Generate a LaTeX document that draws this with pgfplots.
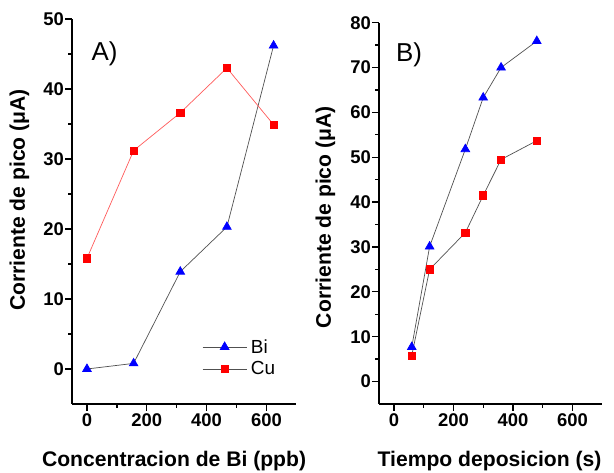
\documentclass[border=0pt]{standalone}
\usepackage{pgfplots}
\pgfplotsset{compat=1.18}
\usepackage{fontspec}
\setmainfont{Liberation Sans}
\definecolor{lgray}{RGB}{80,80,80}
\definecolor{lred}{RGB}{255,90,90}
\pgfplotsset{
  panel/.style={
    scale only axis,
    axis lines=left,
    axis line style={-, line width=1.3bp},
    tick align=outside,
    major tick length=7bp,
    minor tick length=4bp,
    every tick/.style={black, line width=1.3bp},
    xmin=-50, xmax=700,
    xtick={0,200,400,600},
    minor x tick num=1,
    minor y tick num=1,
    /pgf/number format/assume math mode=true,
    tick label style={font=\bfseries\fontsize{18.5}{19}\selectfont},
    yticklabel style={inner xsep=1bp},
    xticklabel style={inner ysep=2bp},
    label style={font=\bfseries\fontsize{21.2}{23}\selectfont},
    ylabel={Corriente de pico (μA)},
    legend image code/.code={\draw[mark repeat=2,mark phase=2] plot coordinates {(0bp,0bp) (22bp,0bp) (44bp,0bp)};},
  },
  bi/.style={lgray, line width=0.7bp, mark=triangle*, mark size=5bp, mark options={draw=blue, fill=blue}},
  cu/.style={line width=0.7bp, mark=square*, mark size=3.6bp, mark options={draw=red, fill=red}},
}
\begin{document}
\begin{tikzpicture}[x=1bp,y=1bp]
\path[use as bounding box] (0,0) rectangle (614,473);
\begin{axis}[panel,
  at={(72bp,69bp)}, anchor=south west,
  width=224.3bp, height=385bp,
  ymin=-5, ymax=50, ytick={0,10,20,30,40,50},
  xlabel={Concentracion de Bi (ppb)},
  xlabel style={at={(axis description cs:0.455,-0.1636)}, anchor=base},
  ylabel style={at={(axis description cs:-0.235,0.53)}, anchor=center},
  legend style={draw=none, fill=none, at={(axis cs:375,1.6)}, anchor=west,
    font=\fontsize{19}{19}\selectfont, row sep=3bp, nodes={inner xsep=4bp}},
  legend cell align=left,
]
\addplot[bi] coordinates {(0,0) (156,0.8) (312,13.9) (468,20.3) (624,46.2)};
\addlegendentry{Bi}
\addplot[cu, lred, legend image post style={lgray}] coordinates {(0,15.8) (156,31.2) (312,36.6) (468,43.0) (624,34.9)};
\addlegendentry{Cu}
\node[font=\fontsize{26}{28}\selectfont, anchor=center] at (axis description cs:0.145,0.91) {A)};
\end{axis}
\begin{axis}[panel,
  at={(379bp,69bp)}, anchor=south west,
  width=223.3bp, height=381.3bp,
  ymin=-5, ymax=80, ytick={0,10,20,30,40,50,60,70,80},
  xlabel={Tiempo deposicion (s)},
  xlabel style={at={(axis description cs:0.495,-0.165)}, anchor=base},
  ylabel style={at={(axis description cs:-0.24,0.49)}, anchor=center},
]
\addplot[bi] coordinates {(60,7.7) (120,30.1) (240,51.8) (300,63.3) (360,70.0) (480,75.9)};
\addplot[cu, lgray] coordinates {(60,5.8) (120,25.0) (240,33.2) (300,41.5) (360,49.5) (480,53.7)};
\node[font=\fontsize{26}{28}\selectfont, anchor=center] at (axis description cs:0.135,0.915) {B)};
\end{axis}
\end{tikzpicture}
\end{document}
